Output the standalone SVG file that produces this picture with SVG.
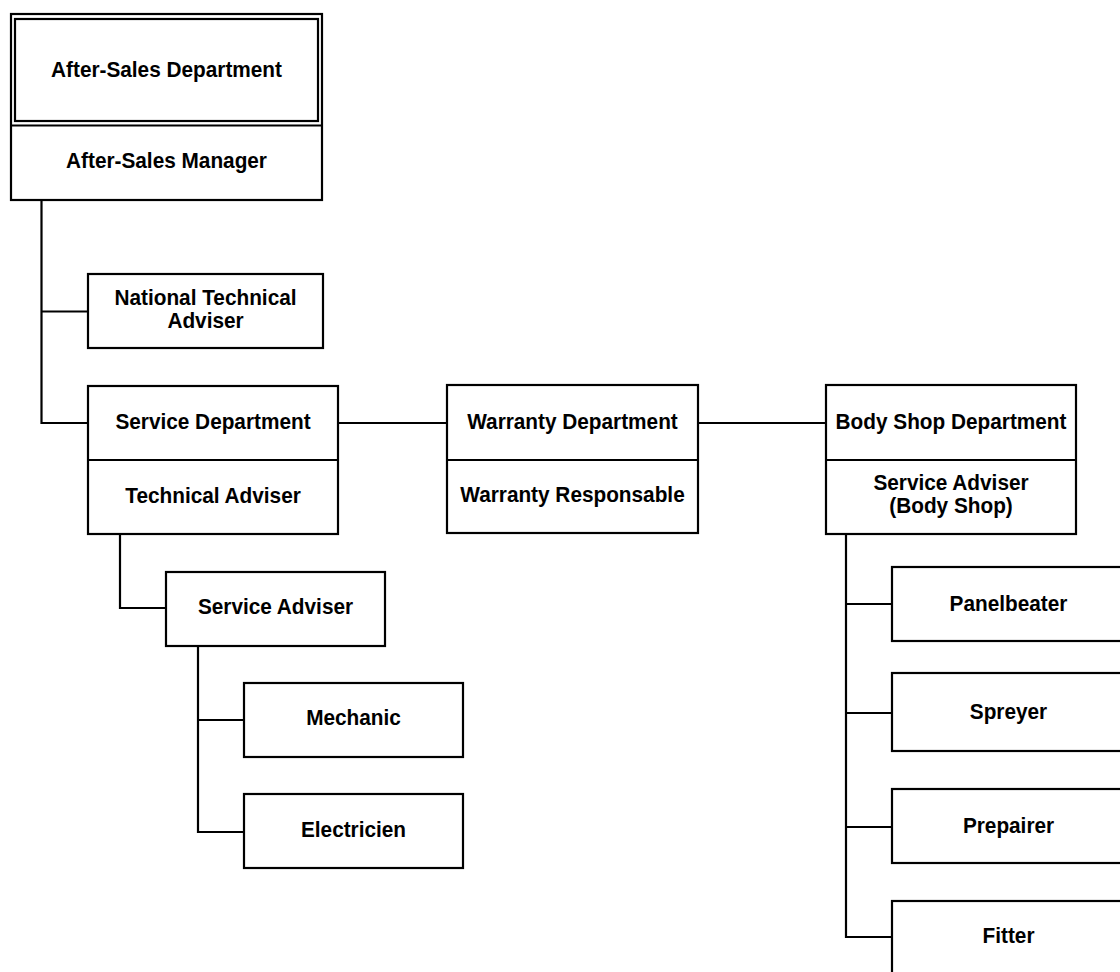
<svg xmlns="http://www.w3.org/2000/svg" width="1120" height="972" viewBox="0 0 1120 972">
  <style>
    .box { fill: #ffffff; stroke: #000000; stroke-width: 2.2; }
    .sep { stroke: #000000; stroke-width: 2.2; }
    .conn { fill: none; stroke: #000000; stroke-width: 2.2; }
    text { font-family: "Liberation Sans", Arial, sans-serif; font-weight: bold; font-size: 22px; fill: #000000; text-anchor: middle; }
  </style>
  <rect width="1120" height="972" fill="#ffffff"/>

  <!-- connectors -->
  <g id="connectors" class="conn">
    <path d="M41.5 200 V423 H88"/>
    <path d="M41.5 311.5 H88"/>
    <path d="M338 423 H447"/>
    <path d="M698 423 H826"/>
    <path d="M120 534 V608 H166"/>
    <path d="M198 646 V832 H244"/>
    <path d="M198 720 H244"/>
    <path d="M846 534 V937 H892"/>
    <path d="M846 604 H892"/>
    <path d="M846 713 H892"/>
    <path d="M846 827 H892"/>
  </g>

  <!-- labels are set in a slightly narrowed bold face: translate to the anchor, then squeeze horizontally -->

  <!-- top: after-sales department / manager -->
  <g id="after-sales">
    <rect class="box" x="11" y="14" width="311" height="186"/>
    <rect class="box" x="15" y="19" width="303" height="102" fill="none"/>
    <line class="sep" x1="11" y1="125.5" x2="322" y2="125.5"/>
    <text transform="translate(166.5 77) scale(0.945 1)">After-Sales Department</text>
    <text transform="translate(166.5 168) scale(0.945 1)">After-Sales Manager</text>
  </g>

  <g id="national-technical-adviser">
    <rect class="box" x="88" y="274" width="235" height="74"/>
    <text transform="translate(205.5 305) scale(0.945 1)">National Technical</text>
    <text transform="translate(205.5 328) scale(0.945 1)">Adviser</text>
  </g>

  <g id="service-department">
    <rect class="box" x="88" y="386" width="250" height="148"/>
    <line class="sep" x1="88" y1="460" x2="338" y2="460"/>
    <text transform="translate(213 428.5) scale(0.945 1)">Service Department</text>
    <text transform="translate(213 502.5) scale(0.945 1)">Technical Adviser</text>
  </g>

  <g id="warranty-department">
    <rect class="box" x="447" y="385" width="251" height="148"/>
    <line class="sep" x1="447" y1="460" x2="698" y2="460"/>
    <text transform="translate(572.5 428.5) scale(0.945 1)">Warranty Department</text>
    <text transform="translate(572.5 502) scale(0.945 1)">Warranty Responsable</text>
  </g>

  <g id="body-shop-department">
    <rect class="box" x="826" y="385" width="250" height="149"/>
    <line class="sep" x1="826" y1="460" x2="1076" y2="460"/>
    <text transform="translate(951 428.5) scale(0.945 1)">Body Shop Department</text>
    <text transform="translate(951 490) scale(0.945 1)">Service Adviser</text>
    <text transform="translate(951 513) scale(0.945 1)">(Body Shop)</text>
  </g>

  <g id="service-adviser">
    <rect class="box" x="166" y="572" width="219" height="74"/>
    <text transform="translate(275.5 613.5) scale(0.945 1)">Service Adviser</text>
  </g>

  <g id="mechanic">
    <rect class="box" x="244" y="683" width="219" height="74"/>
    <text transform="translate(353.5 725) scale(0.945 1)">Mechanic</text>
  </g>

  <g id="electricien">
    <rect class="box" x="244" y="794" width="219" height="74"/>
    <text transform="translate(353.5 837) scale(0.945 1)">Electricien</text>
  </g>

  <g id="panelbeater">
    <rect class="box" x="892" y="567" width="234" height="74"/>
    <text transform="translate(1008.5 610.5) scale(0.945 1)">Panelbeater</text>
  </g>

  <g id="spreyer">
    <rect class="box" x="892" y="673" width="234" height="78"/>
    <text transform="translate(1008.5 719) scale(0.945 1)">Spreyer</text>
  </g>

  <g id="prepairer">
    <rect class="box" x="892" y="789" width="234" height="74"/>
    <text transform="translate(1008.5 833) scale(0.945 1)">Prepairer</text>
  </g>

  <g id="fitter">
    <rect class="box" x="892" y="901" width="234" height="74"/>
    <text transform="translate(1008.5 943) scale(0.945 1)">Fitter</text>
  </g>
</svg>
